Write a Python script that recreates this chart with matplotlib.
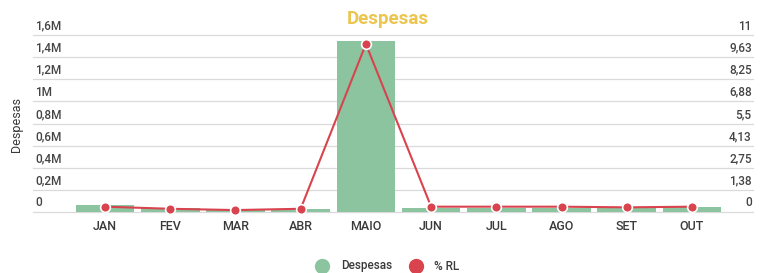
import matplotlib
matplotlib.use("Agg")
import matplotlib.pyplot as plt
from matplotlib.lines import Line2D
import matplotlib.transforms as mtransforms

plt.rcParams['font.family'] = ['Roboto', 'DejaVu Sans']

months = ["JAN", "FEV", "MAR", "ABR", "MAIO", "JUN", "JUL", "AGO", "SET", "OUT"]
despesas = [0.063e6, 0.036e6, 0.027e6, 0.030e6, 1.547e6, 0.040e6, 0.040e6, 0.040e6, 0.035e6, 0.048e6]
pct_rl = [0.33, 0.20, 0.12, 0.20, 10.44, 0.33, 0.33, 0.33, 0.29, 0.33]
left_ticks = [0, 0.2e6, 0.4e6, 0.6e6, 0.8e6, 1.0e6, 1.2e6, 1.4e6, 1.6e6]
left_labels = ["0", "0,2M", "0,4M", "0,6M", "0,8M", "1M", "1,2M", "1,4M", "1,6M"]
right_labels = ["0", "1,38", "2,75", "4,13", "5,5", "6,88", "8,25", "9,63", "11"]

W, H = 767, 273
fig = plt.figure(figsize=(W / 100, H / 100), dpi=100)
fig.patch.set_facecolor("white")

x0, x1 = 72.4, 724.6
ybot, ytop = 212, 35
ax = fig.add_axes([x0 / W, (H - ybot) / H, (x1 - x0) / W, (ybot - ytop) / H])
ax.set_xlim(-0.5, len(months) - 0.5)
ax.set_ylim(0, 1.6e6)
for s in ax.spines.values():
    s.set_visible(False)
ax.set_yticks([])
ax.set_xticks(range(len(months)))
ax.set_xticklabels(months, fontsize=9, color="#3A3A3A", fontweight="medium")
ax.tick_params(axis="x", length=0, pad=6)

# gridlines extending beyond the axes
gl_left = (33 - x0) / (x1 - x0)
gl_right = (753 - x0) / (x1 - x0)
trans = ax.get_yaxis_transform()
for v in left_ticks:
    ax.plot([gl_left, gl_right], [v, v], transform=trans, color="#DADADA",
            lw=0.9, clip_on=False, zorder=0)

offset = mtransforms.offset_copy(trans, fig=fig, x=0, y=2.5, units="dots")
for v, l, r in zip(left_ticks, left_labels, right_labels):
    ax.text(gl_left + 0.003, v, l, transform=offset, ha="left", va="bottom",
            fontsize=8.5, color="#444444", fontweight="medium")
    ax.text(gl_right - 0.002, v, r, transform=offset, ha="right", va="bottom",
            fontsize=8.5, color="#444444", fontweight="medium")

bar_color = "#8CC4A0"
line_color = "#D9434E"
ax.bar(range(len(months)), despesas, width=0.9, color=bar_color, zorder=2)

ax2 = ax.twinx()
ax2.set_ylim(0, 11)
ax2.set_yticks([])
for s in ax2.spines.values():
    s.set_visible(False)
ax2.plot(range(len(months)), pct_rl, color=line_color, lw=1.5, marker="o",
         markersize=7, markerfacecolor=line_color, markeredgecolor="white",
         markeredgewidth=1.2, zorder=3, clip_on=False)

fig.text(388 / W, 1 - 19 / H, "Despesas", ha="center", va="center",
         fontsize=13.5, fontweight="bold", color="#EBC54E")
fig.text(17 / W, 1 - 125 / H, "Despesas", ha="center", va="center",
         rotation=90, fontsize=9, color="#3A3A3A")

# legend
ly = 1 - 266 / H
fig.add_artist(Line2D([322 / W], [ly], marker="o", markersize=10,
                      color=bar_color, linestyle="none", transform=fig.transFigure))
fig.text(341 / W, ly, "Despesas", ha="left", va="center", fontsize=8.5,
         color="#3A3A3A", fontweight="medium")
fig.add_artist(Line2D([416 / W], [ly], marker="o", markersize=10,
                      color=line_color, linestyle="none", transform=fig.transFigure))
fig.text(434 / W, ly, "% RL", ha="left", va="center", fontsize=8.5,
         color="#3A3A3A", fontweight="medium")

fig.savefig("out.png", dpi=100, facecolor="white")
